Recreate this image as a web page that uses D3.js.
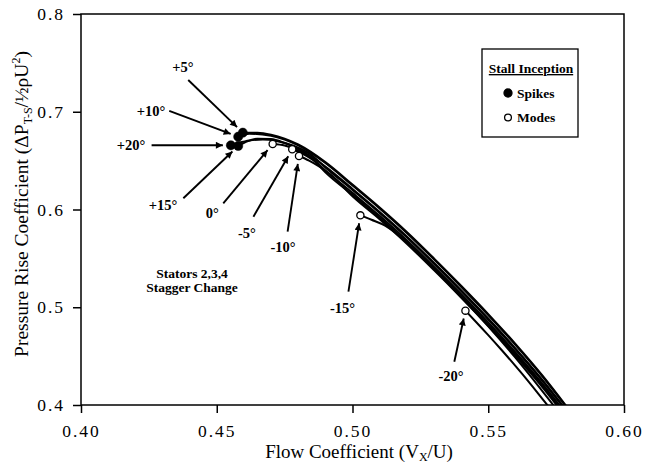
<!DOCTYPE html>
<html><head><meta charset="utf-8">
<script src="https://cdn.jsdelivr.net/npm/d3@7"></script>
<style>body{margin:0;background:#fff}svg{display:block}</style></head>
<body><svg id="chart" width="646" height="466"></svg>
<script>
// Axis ticks
const xTicks = [0.40, 0.45, 0.50, 0.55, 0.60];
const yTicks = [0.4, 0.5, 0.6, 0.7, 0.8];

// Stall inception points, one per stator stagger setting
const staggers = ["+20°", "+15°", "+10°", "+5°", "0°", "-5°", "-10°", "-15°", "-20°"];
const stallFlow = [0.4552, 0.4579, 0.4579, 0.4596, 0.4706, 0.4778, 0.4803, 0.5029, 0.5416];
const stallPressure = [0.6657, 0.6650, 0.6745, 0.6786, 0.6670, 0.6616, 0.6547, 0.5940, 0.4965];
const stallType = ["Spikes", "Spikes", "Spikes", "Spikes", "Modes", "Modes", "Modes", "Modes", "Modes"];

// Pressure rise characteristics [flow, pressure], from stall point towards high flow
const curveP20 = [[0.4552,0.6657],[0.458,0.668],[0.462,0.6705],[0.467,0.6715],[0.472,0.670],[0.478,0.6655],[0.485,0.6555],[0.49,0.643],[0.50,0.620],[0.51,0.5965],[0.52,0.5715],[0.53,0.5445],[0.54,0.5165],[0.55,0.4875],[0.56,0.457],[0.57,0.4245],[0.578,0.3965]];
const curveP15 = [[0.4579,0.665],[0.461,0.6695],[0.465,0.6725],[0.47,0.672],[0.475,0.668],[0.48,0.662],[0.49,0.644],[0.50,0.621],[0.51,0.5975],[0.52,0.5725],[0.53,0.5455],[0.54,0.5175],[0.55,0.4885],[0.56,0.458],[0.57,0.4255],[0.578,0.3975]];
const curveP10 = [[0.4579,0.6745],[0.462,0.6775],[0.47,0.6755],[0.475,0.6715],[0.48,0.6655],[0.49,0.6475],[0.50,0.6245],[0.51,0.601],[0.52,0.576],[0.53,0.549],[0.54,0.521],[0.55,0.492],[0.56,0.4615],[0.57,0.429],[0.579,0.397]];
const curveP5 = [[0.4596,0.6786],[0.465,0.6785],[0.47,0.6765],[0.475,0.6725],[0.48,0.6665],[0.49,0.6485],[0.50,0.6255],[0.51,0.602],[0.52,0.577],[0.53,0.550],[0.54,0.522],[0.55,0.493],[0.56,0.4625],[0.57,0.430],[0.579,0.398]];
const curve0 = [[0.4706,0.667],[0.475,0.6655],[0.48,0.6605],[0.485,0.6525],[0.49,0.640],[0.50,0.617],[0.51,0.5935],[0.52,0.5685],[0.53,0.5415],[0.54,0.5135],[0.55,0.4845],[0.56,0.454],[0.57,0.4215],[0.577,0.397]];
const curveM5 = [[0.4778,0.6616],[0.482,0.6565],[0.486,0.6495],[0.49,0.638],[0.50,0.615],[0.51,0.5915],[0.52,0.5665],[0.53,0.5395],[0.54,0.5115],[0.55,0.4825],[0.56,0.452],[0.57,0.4195],[0.5765,0.3965]];
const curveM10 = [[0.4803,0.6547],[0.484,0.650],[0.488,0.6435],[0.492,0.6355],[0.50,0.6135],[0.51,0.590],[0.52,0.565],[0.53,0.538],[0.54,0.510],[0.55,0.481],[0.56,0.4505],[0.57,0.418],[0.576,0.397]];
const curveM15 = [[0.5029,0.594],[0.507,0.5895],[0.512,0.5835],[0.5175,0.5725],[0.52,0.5665],[0.53,0.539],[0.54,0.5105],[0.55,0.4805],[0.56,0.4485],[0.57,0.414],[0.5745,0.398]];
const curveM20 = [[0.5416,0.4965],[0.545,0.4865],[0.55,0.4715],[0.555,0.456],[0.56,0.440],[0.565,0.4235],[0.5715,0.401],[0.573,0.396]];

// Annotation label anchors and arrow tails, in data units (same order as staggers)
const labelFlow = [0.4184, 0.4302, 0.4258, 0.4375, 0.4484, 0.4611, 0.4744, 0.4963, 0.5363];
const labelPressure = [0.666, 0.6046, 0.7008, 0.7461, 0.5964, 0.576, 0.5616, 0.4992, 0.4297];
const tailFlow = [0.4260, 0.4377, 0.4325, 0.4395, 0.4524, 0.4635, 0.4761, 0.4985, 0.5375];
const tailPressure = [0.6657, 0.6115, 0.7008, 0.7325, 0.6063, 0.5926, 0.5773, 0.5159, 0.4443];

const legendItems = ["Spikes", "Modes"];
const noteLines = ["Stators 2,3,4", "Stagger Change"];

const curves = [curveP20, curveP15, curveP10, curveP5, curve0, curveM5, curveM10, curveM15, curveM20];

const W = 646, H = 466;
const m = {left: 81, right: 22, top: 14, bottom: 61};
const svg = d3.select("#chart");
const x = d3.scaleLinear().domain([0.40, 0.60]).range([m.left, W - m.right]);
const y = d3.scaleLinear().domain([0.4, 0.8]).range([H - m.bottom, m.top]);

const serif = "'Liberation Serif','Times New Roman',Times,serif";

svg.append("defs").append("clipPath").attr("id", "plot")
  .append("rect").attr("x", x(0.40)).attr("y", y(0.8))
  .attr("width", x(0.60) - x(0.40)).attr("height", y(0.4) - y(0.8));

svg.append("defs").append("marker").attr("id", "head")
  .attr("viewBox", "0 0 10 10").attr("refX", 10).attr("refY", 5)
  .attr("markerWidth", 9).attr("markerHeight", 7).attr("markerUnits", "userSpaceOnUse")
  .attr("orient", "auto")
  .append("path").attr("d", "M0,0L10,5L0,10Z").attr("fill", "#000");

// Axes
const xAxis = svg.append("g").attr("transform", `translate(0,${y(0.4)})`)
  .call(d3.axisBottom(x).tickValues(xTicks).tickSize(8).tickPadding(12).tickFormat(d3.format(".2f")));
const yAxis = svg.append("g").attr("transform", `translate(${x(0.40)},0)`)
  .call(d3.axisLeft(y).tickValues(yTicks).tickSize(8).tickPadding(8).tickFormat(d3.format(".1f")));
[xAxis, yAxis].forEach(a => {
  a.select(".domain").remove();
  a.selectAll(".tick line").attr("stroke", "#000").attr("stroke-width", 1.5);
  a.selectAll(".tick text").attr("font-family", serif).attr("font-size", 17.5)
    .attr("letter-spacing", 2).attr("fill", "#000");
});

// Frame
svg.append("rect").attr("x", x(0.40)).attr("y", y(0.8))
  .attr("width", x(0.60) - x(0.40)).attr("height", y(0.4) - y(0.8))
  .attr("fill", "none").attr("stroke", "#000").attr("stroke-width", 1.5);

// Axis titles
const xt = svg.append("text").attr("x", 359).attr("y", 458)
  .attr("text-anchor", "middle").attr("font-family", serif).attr("font-size", 19);
xt.append("tspan").text("Flow Coefficient (V");
xt.append("tspan").attr("font-size", 12).attr("dy", 3).text("X");
xt.append("tspan").attr("dy", -3).text("/U)");

const yt = svg.append("text").attr("transform", "translate(28,204) rotate(-90)")
  .attr("text-anchor", "middle").attr("font-family", serif).attr("font-size", 19.5);
yt.append("tspan").text("Pressure Rise Coefficient (ΔP");
yt.append("tspan").attr("font-size", 12).attr("dy", 4).text("T-S");
yt.append("tspan").attr("dy", -4).text("/½ρU");
yt.append("tspan").attr("font-size", 12).attr("dy", -8).text("2");
yt.append("tspan").attr("dy", 8).text(")");

// Characteristics
const line = d3.line().x(d => x(d[0])).y(d => y(d[1])).curve(d3.curveMonotoneX);
svg.append("g").attr("clip-path", "url(#plot)")
  .selectAll("path").data(curves).join("path")
  .attr("d", line).attr("fill", "none").attr("stroke", "#000").attr("stroke-width", 2);

// Annotation arrows and labels
const ann = svg.append("g");
staggers.forEach((s, i) => {
  const px = x(stallFlow[i]), py = y(stallPressure[i]);
  const tx = x(tailFlow[i]), ty = y(tailPressure[i]);
  const len = Math.hypot(px - tx, py - ty), gap = 8;
  const ex = px - (px - tx) / len * gap, ey = py - (py - ty) / len * gap;
  ann.append("line").attr("x1", tx).attr("y1", ty).attr("x2", ex).attr("y2", ey)
    .attr("stroke", "#000").attr("stroke-width", 1.9).attr("marker-end", "url(#head)");
  ann.append("text").attr("x", x(labelFlow[i])).attr("y", y(labelPressure[i])).attr("dy", "0.35em")
    .attr("text-anchor", "middle").attr("font-family", serif).attr("font-weight", "bold")
    .attr("font-size", 14.5).text(s);
});

// Stall points
svg.append("g").selectAll("circle").data(staggers).join("circle")
  .attr("cx", (d, i) => x(stallFlow[i])).attr("cy", (d, i) => y(stallPressure[i]))
  .attr("r", (d, i) => stallType[i] === "Spikes" ? 4.6 : 3.6)
  .attr("fill", (d, i) => stallType[i] === "Spikes" ? "#000" : "#fff")
  .attr("stroke", "#000").attr("stroke-width", (d, i) => stallType[i] === "Spikes" ? 0.5 : 1.3);

// Note
svg.append("g").selectAll("text").data(noteLines).join("text")
  .attr("x", x(0.4409)).attr("y", (d, i) => y(0.5346) + i * 14).attr("dy", "0.35em")
  .attr("text-anchor", "middle").attr("font-family", serif).attr("font-weight", "bold")
  .attr("font-size", 13.5).text(d => d);

// Legend
const lg = svg.append("g").attr("transform", "translate(482,49)");
lg.append("rect").attr("width", 96).attr("height", 88).attr("fill", "#fff")
  .attr("stroke", "#000").attr("stroke-width", 1.3);
lg.append("text").attr("x", 49).attr("y", 24).attr("text-anchor", "middle")
  .attr("font-family", serif).attr("font-weight", "bold").attr("font-size", 13.5)
  .attr("text-decoration", "underline").text("Stall Inception");
legendItems.forEach((d, i) => {
  const cy = 44 + i * 24.5;
  lg.append("circle").attr("cx", 26).attr("cy", cy).attr("r", d === "Spikes" ? 4 : 3.4)
    .attr("fill", d === "Spikes" ? "#000" : "#fff").attr("stroke", "#000").attr("stroke-width", 1.3);
  lg.append("text").attr("x", 35).attr("y", cy).attr("dy", "0.35em")
    .attr("font-family", serif).attr("font-weight", "bold").attr("font-size", 13.5).text(d);
});
</script>
</body></html>
